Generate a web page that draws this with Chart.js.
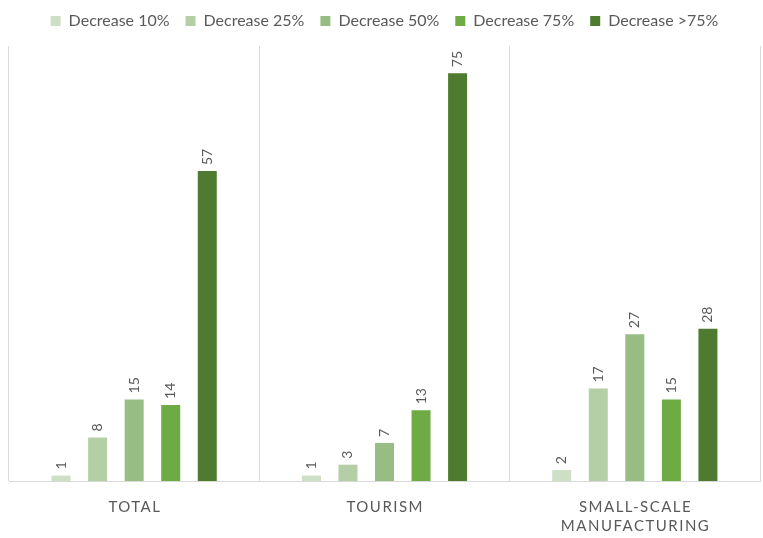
<!DOCTYPE html>
<html>
<head>
<meta charset="utf-8">
<script src="https://cdn.jsdelivr.net/npm/chart.js@4/dist/chart.umd.min.js"></script>
<style>
  html, body { margin: 0; padding: 0; background: #fff; }
  #wrap { width: 763px; height: 538px; }
</style>
</head>
<body>
<div id="wrap"><canvas id="chart1"></canvas></div>
<script>
// categories and series
const categories = [['TOTAL'], ['TOURISM'], ['SMALL-SCALE', 'MANUFACTURING']];
const seriesNames = ['Decrease 10%', 'Decrease 25%', 'Decrease 50%', 'Decrease 75%', 'Decrease >75%'];
const dec10 = [1, 1, 2];
const dec25 = [8, 3, 17];
const dec50 = [15, 7, 27];
const dec75 = [14, 13, 15];
const decOver75 = [57, 75, 28];
const seriesColors = ['#cddfc4', '#b4cfa5', '#97bd85', '#6fab45', '#4e7b2f'];

const FONT = 'Lato, "Open Sans", sans-serif';
const TEXT = '#595959';

// value labels, rotated, above each bar
const valueLabels = {
  id: 'valueLabels',
  afterDatasetsDraw(chart) {
    const ctx = chart.ctx;
    ctx.save();
    ctx.fillStyle = TEXT;
    ctx.font = '14px ' + FONT;
    ctx.textAlign = 'left';
    ctx.textBaseline = 'middle';
    chart.data.datasets.forEach((ds, i) => {
      chart.getDatasetMeta(i).data.forEach((bar, j) => {
        ctx.save();
        ctx.translate(bar.x, bar.y - 6);
        ctx.rotate(-Math.PI / 2);
        ctx.fillText(String(ds.data[j]), 0, 0);
        ctx.restore();
      });
    });
    ctx.restore();
  }
};

// category labels with letter spacing
const categoryLabels = {
  id: 'categoryLabels',
  afterDraw(chart) {
    const ctx = chart.ctx;
    const xs = chart.scales.x;
    ctx.save();
    ctx.fillStyle = TEXT;
    ctx.font = '15px ' + FONT;
    ctx.letterSpacing = '1.5px';
    ctx.textAlign = 'center';
    ctx.textBaseline = 'top';
    categories.forEach((lines, i) => {
      const x = xs.getPixelForValue(i) + 0.75;
      lines.forEach((t, k) => {
        ctx.fillText(t, x, chart.chartArea.bottom + 19 + k * 19);
      });
    });
    ctx.restore();
  }
};

const ctx = document.getElementById('chart1').getContext('2d');
new Chart(ctx, {
  type: 'bar',
  data: {
    labels: categories.map(l => l.join(' ')),
    datasets: [dec10, dec25, dec50, dec75, decOver75].map((d, i) => ({
      label: seriesNames[i],
      data: d,
      backgroundColor: seriesColors[i],
      borderWidth: 0,
      categoryPercentage: 0.73,
      barPercentage: 0.52
    }))
  },
  options: {
    responsive: true,
    maintainAspectRatio: false,
    animation: false,
    layout: { padding: { left: 9, right: 3, top: -3, bottom: 57 } },
    plugins: {
      legend: {
        display: true,
        position: 'top',
        labels: {
          color: TEXT,
          boxWidth: 10,
          boxHeight: 10,
          padding: 16,
          font: { family: FONT, size: 16 }
        }
      },
      tooltip: { enabled: false }
    },
    scales: {
      x: {
        offset: true,
        grid: { display: true, offset: true, color: '#d9d9d9', drawTicks: false },
        border: { display: true, color: '#d9d9d9' },
        ticks: { display: false }
      },
      // empty spacer between legend and plot
      x2: {
        position: 'top',
        grid: { display: false },
        border: { display: false },
        ticks: { display: false },
        afterFit(s) { s.height = 7; }
      },
      y: {
        display: false,
        min: 0,
        max: 80
      }
    }
  },
  plugins: [valueLabels, categoryLabels]
});
</script>
</body>
</html>
